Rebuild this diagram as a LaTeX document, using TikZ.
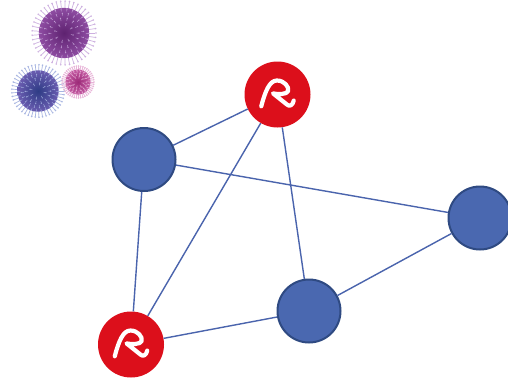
\documentclass[tikz,border=0pt]{standalone}
\usetikzlibrary{calc}
\definecolor{edgeblue}{HTML}{4A64AD}
\definecolor{nodefill}{HTML}{4A68B0}
\definecolor{nodeline}{HTML}{2F4A82}
\definecolor{aviraRed}{HTML}{DC0F1B}
\definecolor{bigIn}{HTML}{5E2270}
\definecolor{bigOut}{HTML}{8E4CA2}
\definecolor{bigSpike}{HTML}{CDB0E0}
\definecolor{bluIn}{HTML}{2E3C85}
\definecolor{bluOut}{HTML}{6A5CB0}
\definecolor{bluSpike}{HTML}{A8B6E2}
\definecolor{smIn}{HTML}{9C2A78}
\definecolor{smOut}{HTML}{C45AA2}
\definecolor{smSpike}{HTML}{E8B4D8}
\tikzset{
  link/.style={draw=edgeblue, line width=1.4pt},
  bluenode/.style={circle, fill=nodefill, draw=nodeline, line width=2pt, minimum size=63pt, inner sep=0pt},
  rednode/.style={circle, fill=aviraRed, draw=none, minimum size=66pt, inner sep=0pt},
  umbrella/.pic={
    \draw[white, line width=4.2pt, line cap=round, line join=round, scale=1.12]
      (-14.5,10.5) .. controls (-11,-3) and (-7,-12.5) .. (-0.5,-12.5)
      .. controls (6,-12.5) and (10.5,-7) .. (9.5,-3)
      .. controls (8.5,0) and (0,0) .. (-4,-1)
      -- (8.5,9) .. controls (10.5,11) and (13.5,10) .. (14.5,5.5);
  }
}
% spiky ball: x, y, radius, inner colour, outer colour, spike colour
\newcommand\virusball[6]{%
  \foreach \a in {0,8,...,352}{
    \draw[#6, line width=0.7pt] ($(#1,#2)+(\a:#3*0.85)$) -- ($(#1,#2)+(\a:#3*1.12)$);
    \fill[#6] ($(#1,#2)+(\a:#3*1.14)$) circle (0.9);
  }
  \shade[inner color=#4, outer color=#5] (#1,#2) circle (#3*0.9);
  \foreach \r/\s in {0.25/45, 0.45/26, 0.62/18, 0.78/14}{
    \foreach \a in {0,\s,...,359}{
      \draw[#6, opacity=0.75, line width=0.5pt]
        ($(#1,#2)+(\a+\r*50:#3*\r)$) -- ($(#1,#2)+(\a+\r*50:#3*\r+2.2)$);
      \fill[#6, opacity=0.8] ($(#1,#2)+(\a+\r*50:#3*\r+2.4)$) circle (0.7);
    }
  }
}
\begin{document}
\begin{tikzpicture}[x=1pt, y=-1pt]
  \useasboundingbox (0,0) rectangle (508,381);
  \fill[white] (0,0) rectangle (508,381);

  % viruses
  \virusball{64}{33}{28}{bigIn}{bigOut}{bigSpike}
  \virusball{38}{91}{23}{bluIn}{bluOut}{bluSpike}
  \virusball{78}{82}{14}{smIn}{smOut}{smSpike}

  % nodes
  \node[bluenode] (a) at (144,159.5) {};
  \node[bluenode] (r) at (480,218) {};
  \node[bluenode] (b) at (309,311) {};
  \node[rednode] (t) at (277.5,94.5) {};
  \node[rednode] (l) at (131,344.5) {};

  % connectors
  \draw[link] (a) -- (t);
  \draw[link] (a) -- (r);
  \draw[link] (a) -- (l);
  \draw[link] (t) -- (l);
  \draw[link] (t) -- (b);
  \draw[link] (r) -- (b);
  \draw[link] (b) -- (l);

  % logos
  \pic at (t) {umbrella};
  \pic at (l) {umbrella};
\end{tikzpicture}
\end{document}
